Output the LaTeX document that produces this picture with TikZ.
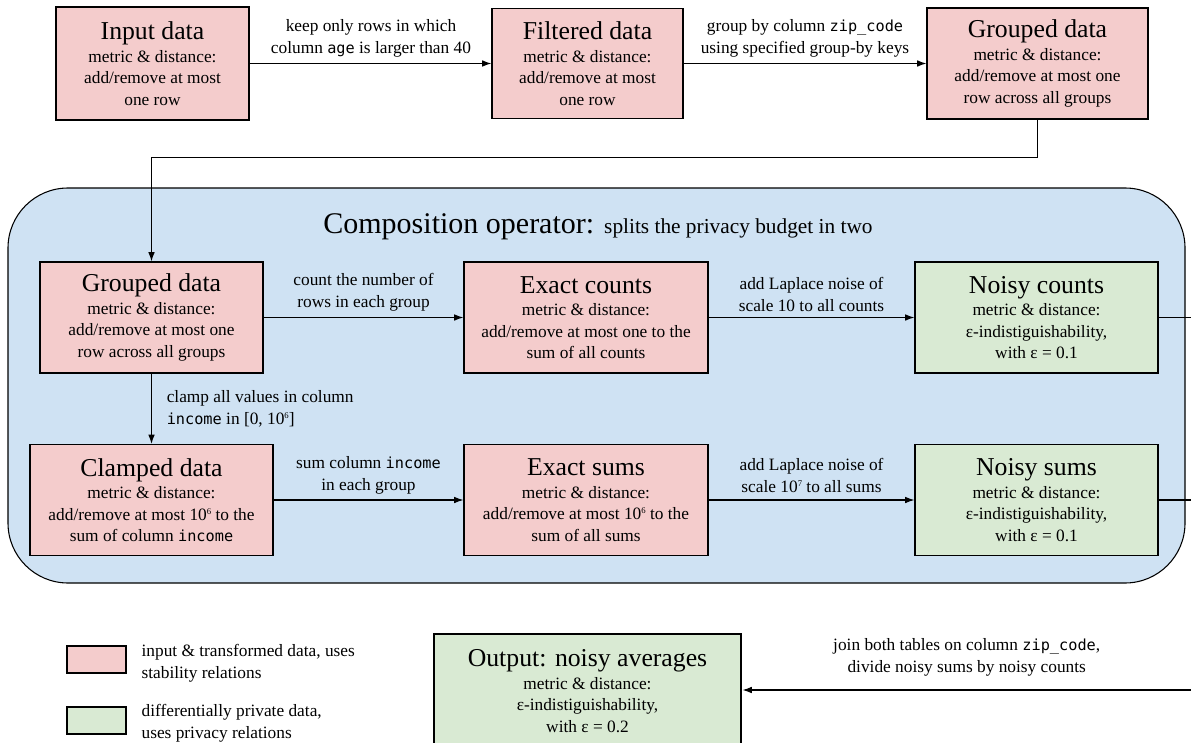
\documentclass[tikz,border=0pt]{standalone}
\usepackage{fontspec}
\setmainfont{Liberation Serif}
\setmonofont[Scale=0.88]{DejaVu Sans Mono}
\usetikzlibrary{arrows.meta}
\definecolor{pinkc}{HTML}{F4CCCC}
\definecolor{greenc}{HTML}{D9EAD3}
\definecolor{bluec}{HTML}{CFE2F3}
\newcommand\ttlfont{\fontsize{19.3}{23}\selectfont}
\newcommand\bodyfont{\fontsize{13}{16}\selectfont}
\newcommand\bigttl{\fontsize{22.5}{27}\selectfont}
\newcommand\medttl{\fontsize{16}{19}\selectfont}
\newcommand\tinysup[1]{\raisebox{0.75ex}{\fontsize{6.5}{7}\selectfont #1}}
\begin{document}
\begin{tikzpicture}[x=0.75pt,y=-0.75pt,
  box/.style={draw, line width=0.8pt, inner sep=0pt, align=center, font=\bodyfont},
  stab/.style={box, fill=pinkc},
  priv/.style={box, fill=greenc},
  thickbox/.style={line width=2.2pt},
  sz/.style 2 args={minimum width=#1*0.75pt, minimum height=#2*0.75pt},
  arr/.style={line width=0.9pt, -{Latex[length=7pt,width=5pt]}},
  conn/.style={line width=0.9pt},
  lbl/.style={font=\fontsize{13}{16.5}\selectfont, align=center, inner sep=1pt},
  swatch/.style={draw, line width=1.1pt, inner sep=0pt, sz={59}{27}},
]
\useasboundingbox (0,0) rectangle (1191,742);

% composition region
\node[draw, fill=bluec, line width=0.8pt, rounded corners=45pt, sz={1177}{395}] (comp) at (596.5,385.5) {};
\node (comptitle) at (598,227) {\bigttl Composition operator: \medttl splits the privacy budget in two};

% top row
\node[stab, thickbox, sz={193}{113}] (in) at (152.5,63.5)
  {{\ttlfont Input data}\\[1pt] metric \& distance:\\ add/remove at most\\ one row};
\node[stab, sz={191}{110}] (fil) at (587.5,63.5)
  {{\ttlfont Filtered data}\\[1pt] metric \& distance:\\ add/remove at most\\ one row};
\node[stab, sz={221}{111}] (gr1) at (1037.5,63.5)
  {{\ttlfont Grouped data}\\[1pt] metric \& distance:\\ add/remove at most one\\ row across all groups};

\draw[arr] (in) -- node[lbl, above=3pt] {keep only rows in which\\ column \texttt{age} is larger than 40} (fil);
\draw[arr] (fil) -- node[lbl, above=3pt] {group by column \texttt{zip\_code}\\ using specified group-by keys} (gr1);

% middle row
\node[stab, sz={223}{111}] (gr2) at (151.5,317.5)
  {{\ttlfont Grouped data}\\[1pt] metric \& distance:\\ add/remove at most one\\ row across all groups};
\node[stab, sz={244}{111}] (ec) at (586,317.5)
  {{\ttlfont Exact counts}\\[1pt] metric \& distance:\\ add/remove at most one to the\\ sum of all counts};
\node[priv, sz={243}{111}] (nc) at (1036.5,317.5)
  {{\ttlfont Noisy counts}\\[1pt] metric \& distance:\\ ε-indistiguishability,\\ with ε = 0.1};

\draw[arr] (gr1.south) -- ++(0,38) -| (gr2.north);
\draw[arr] (gr2) -- node[lbl, above=3pt] {count the number of\\ rows in each group} (ec);
\draw[arr] (ec) -- node[lbl, above=3pt] {add Laplace noise of\\ scale 10 to all counts} (nc);
\coordinate (ncend) at (1191,317.5);
\draw[conn] (nc) -- (ncend);

% bottom row
\node[stab, sz={243}{111}] (cl) at (151.5,500)
  {{\ttlfont Clamped data}\\[1pt] metric \& distance:\\ add/remove at most 10\tinysup{6} to the\\ sum of column \texttt{income}};
\node[stab, sz={244}{111}] (es) at (586,500)
  {{\ttlfont Exact sums}\\[1pt] metric \& distance:\\ add/remove at most 10\tinysup{6} to the\\ sum of all sums};
\node[priv, sz={243}{111}] (ns) at (1036.5,500)
  {{\ttlfont Noisy sums}\\[1pt] metric \& distance:\\ ε-indistiguishability,\\ with ε = 0.1};

\draw[arr] (gr2) -- node[lbl, right=10pt, align=left] {clamp all values in column\\ \texttt{income} in [0, 10\tinysup{6}]} (cl);
\draw[arr] (cl) -- node[lbl, above=3pt] {sum column \texttt{income}\\ in each group} (es);
\draw[arr] (es) -- node[lbl, above=4pt] {add Laplace noise of\\ scale 10\tinysup{7} to all sums} (ns);
\coordinate (nsend) at (1191,500);
\draw[conn] (ns) -- (nsend);

% output
\node[priv, thickbox, sz={307}{114}] (out) at (587.5,691)
  {{\ttlfont Output: noisy averages}\\[1pt] metric \& distance:\\ ε-indistiguishability,\\ with ε = 0.2};
\coordinate (joinstart) at (1191,690);
\draw[arr] (joinstart) -- node[lbl, above=9pt] {join both tables on column \texttt{zip\_code},\\ divide noisy sums by noisy counts} (out.east |- joinstart);

% legend
\node[swatch, fill=pinkc] (legs) at (96.5,659.5) {};
\node[lbl, align=left, anchor=west] (legst) at (140,663) {input \& transformed data, uses\\ stability relations};
\node[swatch, fill=greenc] (legp) at (96.5,720.5) {};
\node[lbl, align=left, anchor=west] (legpt) at (140,723) {differentially private data,\\ uses privacy relations};
\end{tikzpicture}
\end{document}
